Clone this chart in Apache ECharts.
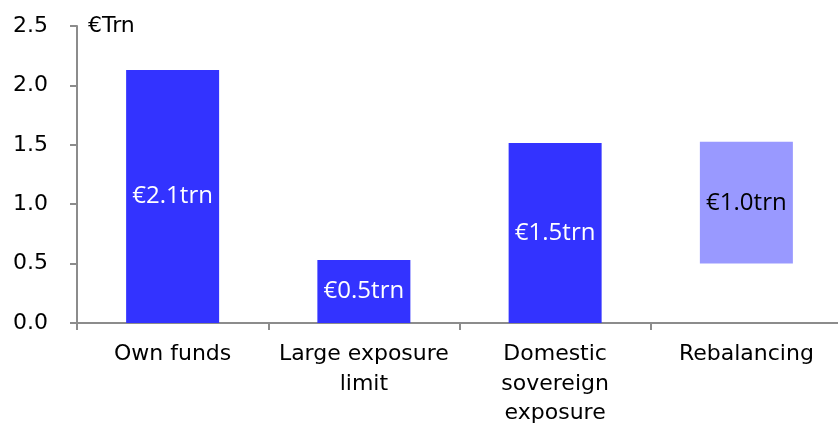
<!DOCTYPE html>
<html>
<head>
<meta charset="utf-8">
<script src="https://cdn.jsdelivr.net/npm/echarts@6/dist/echarts.min.js"></script>
<style>html,body{margin:0;padding:0;background:#fff;}#c{width:838px;height:423px;}</style>
</head>
<body>
<div id="c"></div>
<script>
const categories = ['Own funds', 'Large exposure\nlimit', 'Domestic\nsovereign\nexposure', 'Rebalancing'];
const baseValues = [0, 0, 0, 0.5];
const barValues = [2.13, 0.53, 1.515, 1.025];
const barLabels = ['€2.1trn', '€0.5trn', '€1.5trn', '€1.0trn'];
const barKinds = ['dark', 'dark', 'dark', 'light'];
const yTicks = [0, 0.5, 1.0, 1.5, 2.0, 2.5];

const colors = { dark: '#3333FF', light: '#9999FF' };
const labelColors = { dark: '#ffffff', light: '#000000' };
const axisColor = '#8c8c8c';

const chart = echarts.init(document.getElementById('c'));
chart.setOption({
  animation: false,
  grid: { left: 77, top: 26, bottom: 100, right: -4, containLabel: false, outerBoundsMode: 'none' },
  xAxis: {
    type: 'category',
    data: categories,
    boundaryGap: true,
    axisLine: { show: true, lineStyle: { color: axisColor, width: 2 } },
    axisTick: { show: true, length: 7, lineStyle: { color: axisColor, width: 2 }, alignWithLabel: false },
    axisLabel: { color: '#000', fontFamily: 'DejaVu Sans', fontSize: 22, lineHeight: 29.5, margin: 17, interval: 0 },
    splitLine: { show: false }
  },
  yAxis: {
    type: 'value',
    min: yTicks[0],
    max: yTicks[yTicks.length - 1],
    interval: 0.5,
    name: '€Trn',
    nameLocation: 'end',
    nameGap: 0,
    nameTextStyle: { color: '#000', fontFamily: 'DejaVu Sans', fontSize: 22, align: 'left', verticalAlign: 'middle', padding: [0, 0, 0, 11] },
    axisLine: { show: true, lineStyle: { color: axisColor, width: 2 } },
    axisTick: { show: true, length: 7, inside: false, lineStyle: { color: axisColor, width: 2 } },
    axisLabel: { color: '#000', fontFamily: 'DejaVu Sans', fontSize: 22, margin: 29, formatter: v => v.toFixed(1) },
    splitLine: { show: false }
  },
  series: [
    {
      type: 'bar',
      stack: 's',
      barWidth: 93,
      data: baseValues,
      itemStyle: { color: 'rgba(0,0,0,0)' },
      silent: true
    },
    {
      type: 'bar',
      stack: 's',
      barWidth: 93,
      data: barValues.map((v, i) => ({
        value: v,
        itemStyle: { color: colors[barKinds[i]] },
        label: {
          show: true,
          position: 'inside',
          formatter: barLabels[i],
          color: labelColors[barKinds[i]],
          fontFamily: 'Open Sans',
          fontSize: 24
        }
      }))
    }
  ]
});
</script>
</body>
</html>
